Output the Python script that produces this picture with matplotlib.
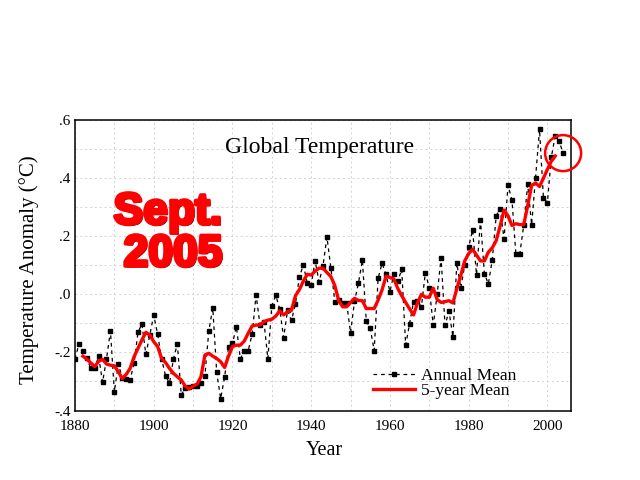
import numpy as np
import matplotlib
matplotlib.use("Agg")
import matplotlib.pyplot as plt
from matplotlib import font_manager
from matplotlib.patches import Ellipse
import matplotlib.patheffects as pe

# ---------------- data ----------------
annual_years = np.arange(1880, 2005)
annual_mean = [
    -0.223, -0.171, -0.195, -0.220, -0.255, -0.255, -0.213, -0.303, -0.223, -0.126,
    -0.336, -0.240, -0.287, -0.292, -0.294, -0.238, -0.131, -0.102, -0.207, -0.140,
    -0.072, -0.138, -0.223, -0.280, -0.307, -0.223, -0.171, -0.347, -0.322, -0.320,
    -0.316, -0.315, -0.307, -0.280, -0.125, -0.047, -0.269, -0.359, -0.286, -0.180,
    -0.169, -0.111, -0.222, -0.194, -0.194, -0.137, -0.002, -0.106, -0.094, -0.222,
    -0.040, -0.004, -0.050, -0.149, -0.055, -0.090, -0.033, 0.058, 0.102, 0.038,
    0.032, 0.116, 0.042, 0.098, 0.197, 0.091, -0.025, -0.020, -0.031, -0.029,
    -0.133, -0.024, 0.038, 0.118, -0.092, -0.117, -0.194, 0.055, 0.107, 0.069,
    0.009, 0.070, 0.045, 0.086, -0.175, -0.101, -0.025, -0.024, -0.043, 0.075,
    0.022, -0.107, 0.000, 0.126, -0.107, -0.058, -0.146, 0.107, 0.021, 0.101,
    0.162, 0.222, 0.067, 0.256, 0.071, 0.036, 0.118, 0.270, 0.295, 0.190,
    0.375, 0.325, 0.139, 0.140, 0.239, 0.378, 0.240, 0.402, 0.568, 0.331,
    0.316, 0.472, 0.546, 0.526, 0.486,
]

mean5_years = np.arange(1882, 2003)
five_year_mean = [
    -0.213, -0.223, -0.236, -0.249, -0.231, -0.224, -0.240, -0.244,
    -0.246, -0.267, -0.290, -0.276, -0.255, -0.215, -0.186, -0.157, -0.131, -0.140,
    -0.163, -0.180, -0.221, -0.235, -0.255, -0.272, -0.284, -0.295, -0.316, -0.326,
    -0.316, -0.309, -0.284, -0.209, -0.203, -0.213, -0.221, -0.232, -0.252, -0.213,
    -0.180, -0.175, -0.175, -0.161, -0.134, -0.109, -0.106, -0.106, -0.094, -0.089,
    -0.086, -0.075, -0.057, -0.071, -0.060, -0.055, -0.005, 0.016, 0.045, 0.069,
    0.066, 0.080, 0.090, 0.090, 0.075, 0.061, 0.030, -0.022, -0.043, -0.043,
    -0.028, -0.014, -0.021, -0.022, -0.049, -0.049, -0.049, -0.020, 0.015, 0.062,
    0.058, 0.053, 0.020, -0.005, -0.028, -0.050, -0.071, -0.030, 0.000, -0.010,
    -0.010, 0.021, -0.018, -0.028, -0.025, -0.022, -0.030, 0.020, 0.065, 0.115,
    0.140, 0.155, 0.135, 0.115, 0.115, 0.145, 0.160, 0.185, 0.235, 0.290,
    0.270, 0.237, 0.243, 0.240, 0.240, 0.305, 0.375, 0.383, 0.371, 0.400,
    0.430, 0.458, 0.476,
]

x_ticks = [1880, 1900, 1920, 1940, 1960, 1980, 2000]
y_ticks = [-0.4, -0.2, 0.0, 0.2, 0.4, 0.6]
y_tick_labels = ["-.4", "-.2", ".0", ".2", ".4", ".6"]

title_text = "Global Temperature"
xlabel_text = "Year"
ylabel_text = "Temperature Anomaly (\u00b0C)"
stamp_line1 = "Sept."
stamp_line2 = "2005"
legend_labels = ["Annual Mean", "5-year Mean"]

# ---------------- style ----------------
serif = ["Liberation Serif", "DejaVu Serif"]
names = {f.name for f in font_manager.fontManager.ttflist}
if "Liberation Sans Narrow" in names:
    stamp_family, stamp_size = "Liberation Sans Narrow", 37
else:
    stamp_family, stamp_size = "Liberation Sans", 32

fig = plt.figure(figsize=(6.4, 4.8), dpi=100)
fig.patch.set_facecolor("white")
ax = fig.add_axes([75 / 640, 69.5 / 480, 496 / 640, 290.5 / 480])

ax.set_xlim(1880, 2006)
ax.set_ylim(-0.4, 0.6)

ax.set_xticks(x_ticks)
ax.set_xticks(np.arange(1890, 2006, 20), minor=True)
ax.set_yticks(y_ticks)
ax.set_yticklabels(y_tick_labels)
ax.set_yticks([-0.3, -0.1, 0.1, 0.3, 0.5], minor=True)
ax.grid(True, which="both", color="#d2d2d2", linestyle=(0, (2, 3)), linewidth=0.7)
ax.set_axisbelow(True)
ax.tick_params(which="both", length=0)
ax.tick_params(axis="y", pad=3)
ax.tick_params(axis="x", pad=6.5)
for lab in ax.get_xticklabels() + ax.get_yticklabels():
    lab.set_fontfamily(serif)
    lab.set_fontsize(11)
for sp in ax.spines.values():
    sp.set_linewidth(1.1)
    sp.set_color("black")

ax.plot(annual_years, annual_mean, color="black", linewidth=0.9,
        linestyle=(0, (3, 3)), marker="s", markersize=3, markerfacecolor="black",
        markeredgecolor="black", label=legend_labels[0], zorder=3)
ax.plot(mean5_years, five_year_mean, color="#ff0000", linewidth=2.4,
        label=legend_labels[1], zorder=4)

leg = ax.legend(loc="center left", bbox_to_anchor=(0.601, 0.094), frameon=False,
                prop={"family": serif, "size": 12.5}, handlelength=2.4,
                handletextpad=0.35, labelspacing=-0.05, borderpad=0, borderaxespad=0)

ax.text(0.494, 0.905, title_text, transform=ax.transAxes, ha="center", va="center",
        fontsize=17, fontfamily=serif)
ax.text(0.502, -0.136, xlabel_text, transform=ax.transAxes, ha="center", va="center",
        fontsize=14.5, fontfamily=serif)
fig.text(29 / 640, 1 - 270 / 480, ylabel_text, rotation=90, ha="center", va="center",
         fontsize=15, fontfamily=serif)

effects = [pe.withSimplePatchShadow(offset=(1.2, -1.2), shadow_rgbFace="#500000", alpha=1.0),
           pe.Stroke(linewidth=2.6, foreground="#ff0000"), pe.Normal()]
fig.text(168 / 640, 1 - 224 / 480, stamp_line1, ha="center", va="baseline",
         fontsize=stamp_size, fontweight="bold", fontfamily=stamp_family,
         color="#ff0000", path_effects=effects)
fig.text(173 / 640, 1 - 266 / 480, stamp_line2, ha="center", va="baseline",
         fontsize=stamp_size, fontweight="bold", fontfamily=stamp_family,
         color="#ff0000", path_effects=effects)

# circle around the latest annual value (radius ~18 px)
px_per_year = 496 / (2006 - 1880)
px_per_unit = 290.5 / 1.0
ax.add_patch(Ellipse((annual_years[-1], annual_mean[-1]), width=2 * 18 / px_per_year,
                     height=2 * 18 / px_per_unit, fill=False, edgecolor="#ff0000",
                     linewidth=1.8, clip_on=False, zorder=5))

fig.savefig("out.png", dpi=100, facecolor="white")
